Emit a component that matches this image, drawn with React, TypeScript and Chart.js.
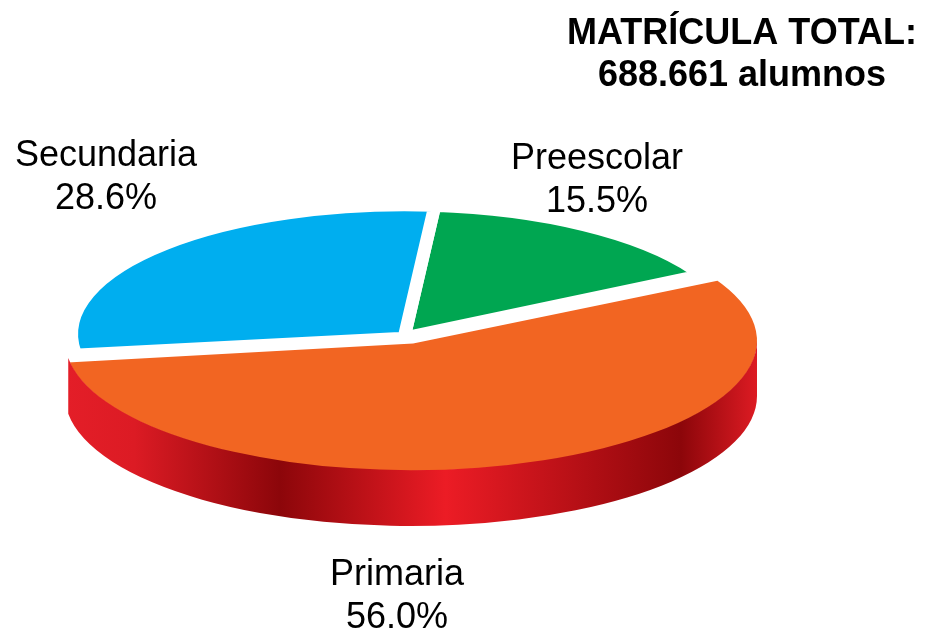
import { useEffect, useRef } from "react";
import { Chart, registerables } from "chart.js";

Chart.register(...registerables);

// ---- data ----
const categories = ["Preescolar", "Primaria", "Secundaria"];
const shares = [15.5, 56.0, 28.6];
const sliceColors = ["#00A651", "#F26522", "#00AEEF"];
const titleLines = ["MATRÍCULA TOTAL:", "688.661 alumnos"];

// ---- style ----
const FONT = '"Liberation Sans", Arial, Helvetica, sans-serif';
const BORDER = 11;
const EXPLODE = [0, 64, 0];
const ROTATION = 5;
const FRONT_INDEX = 1;
const VIEW = { cx: 411, cy: 341, rx: 346, ry: 130, depth: 55 };
const LABEL_POS = [
  { x: 597, y: 169 },
  { x: 397, y: 585 },
  { x: 106, y: 166 },
];
const LINE_H = 43;

function getView(chart: any) {
  const meta = chart.getDatasetMeta(0);
  const front = meta.data[FRONT_INDEX];
  const { x, y, outerRadius, startAngle, endAngle } = front;
  const d = (EXPLODE[FRONT_INDEX] || 0) / 4;
  const circ = endAngle - startAngle;
  const fix = 1 - Math.sin(Math.min(Math.PI, circ));
  const half = (startAngle + endAngle) / 2;
  const visR = outerRadius + d * fix - BORDER / 2;
  const sx = VIEW.rx / visR;
  const sy = VIEW.ry / visR;
  const ex = VIEW.cx - Math.cos(half) * d * sx;
  const ey = VIEW.cy - Math.sin(half) * d * sy;
  return { x, y, sx, sy, ex, ey, startAngle, endAngle };
}

const pie3d = {
  id: "pie3d",
  beforeDatasetsDraw(chart: any) {
    const v = getView(chart);
    const ctx = chart.ctx;
    ctx.save();
    ctx.translate(v.ex, v.ey);
    ctx.scale(v.sx, v.sy);
    ctx.translate(-v.x, -v.y);
  },
  afterDatasetsDraw(chart: any) {
    const ctx = chart.ctx;
    ctx.restore();
    const v = getView(chart);
    const a0 = Math.max(0, v.startAngle);
    const a1 = Math.min(Math.PI, v.endAngle);
    if (a1 <= a0) return;
    const { cx, cy, rx, ry, depth } = VIEW;
    const g = ctx.createLinearGradient(cx - rx, 0, cx + rx, 0);
    g.addColorStop(0, "#E41E28");
    g.addColorStop(0.1, "#DC1B24");
    g.addColorStop(0.31, "#8C060A");
    g.addColorStop(0.55, "#EC1C25");
    g.addColorStop(0.89, "#8C060A");
    g.addColorStop(1, "#DD1B23");
    ctx.save();
    ctx.beginPath();
    ctx.ellipse(cx, cy - 0.8, rx, ry, 0, a0, a1, false);
    ctx.ellipse(cx, cy + depth, rx, ry, 0, a1, a0, true);
    ctx.closePath();
    ctx.fillStyle = g;
    ctx.fill();
    ctx.restore();
  },
  afterDraw(chart: any) {
    const ctx = chart.ctx;
    ctx.save();
    ctx.fillStyle = "#000";
    ctx.textAlign = "center";
    ctx.textBaseline = "alphabetic";
    ctx.font = `36px ${FONT}`;
    categories.forEach((c, i) => {
      const p = LABEL_POS[i];
      ctx.fillText(c, p.x, p.y);
      ctx.fillText(`${shares[i].toFixed(1)}%`, p.x, p.y + LINE_H);
    });
    ctx.font = `bold 36px ${FONT}`;
    ctx.fillText(titleLines[0], 742, 44);
    ctx.fillText(titleLines[1], 742, 86);
    ctx.restore();
  },
};

export default function App() {
  const ref = useRef<HTMLCanvasElement | null>(null);
  useEffect(() => {
    document.body.style.margin = "0";
    const canvas = ref.current;
    if (!canvas) return;
    const chart = new Chart(canvas, {
      type: "pie",
      data: {
        labels: categories,
        datasets: [
          {
            data: shares,
            backgroundColor: sliceColors,
            borderColor: "#FFFFFF",
            borderWidth: BORDER,
            borderJoinStyle: "miter",
            offset: EXPLODE,
            hoverOffset: 0,
            clip: false,
          } as any,
        ],
      },
      options: {
        responsive: false,
        animation: false,
        devicePixelRatio: 1,
        rotation: ROTATION,
        events: [],
        layout: { padding: 0 },
        plugins: {
          legend: { display: false },
          tooltip: { enabled: false },
          title: { display: false },
        },
      },
      plugins: [pie3d],
    });
    return () => chart.destroy();
  }, []);
  return (
    <div style={{ width: 930, height: 630, background: "#fff" }}>
      <canvas ref={ref} width={930} height={630} style={{ display: "block" }} />
    </div>
  );
}
